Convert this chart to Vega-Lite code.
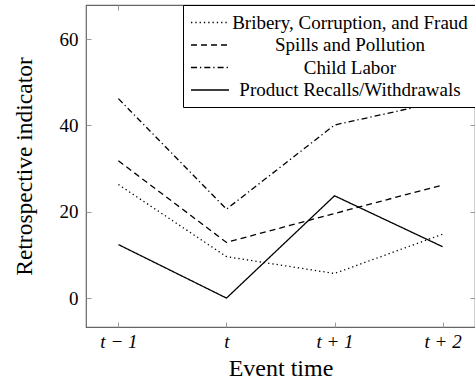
{
  "$schema": "https://vega.github.io/schema/vega-lite/v6.json",
  "width": 389,
  "height": 322,
  "autosize": "none",
  "padding": {"left": 86, "top": 5, "right": 0, "bottom": 55},
  "config": {
    "font": "Liberation Serif",
    "view": {"stroke": "#666", "strokeWidth": 1.2}
  },
  "data": {
    "values": [
      {"series": "Bribery, Corruption, and Fraud", "time": "t − 1", "value": 26.3},
      {"series": "Bribery, Corruption, and Fraud", "time": "t", "value": 9.6},
      {"series": "Bribery, Corruption, and Fraud", "time": "t + 1", "value": 5.7},
      {"series": "Bribery, Corruption, and Fraud", "time": "t + 2", "value": 14.8},
      {"series": "Spills and Pollution", "time": "t − 1", "value": 31.8},
      {"series": "Spills and Pollution", "time": "t", "value": 12.9},
      {"series": "Spills and Pollution", "time": "t + 1", "value": 19.6},
      {"series": "Spills and Pollution", "time": "t + 2", "value": 26.2},
      {"series": "Child Labor", "time": "t − 1", "value": 46.2},
      {"series": "Child Labor", "time": "t", "value": 20.6},
      {"series": "Child Labor", "time": "t + 1", "value": 40.1},
      {"series": "Child Labor", "time": "t + 2", "value": 45.6},
      {"series": "Product Recalls/Withdrawals", "time": "t − 1", "value": 12.4},
      {"series": "Product Recalls/Withdrawals", "time": "t", "value": 0},
      {"series": "Product Recalls/Withdrawals", "time": "t + 1", "value": 23.7},
      {"series": "Product Recalls/Withdrawals", "time": "t + 2", "value": 11.9}
    ]
  },
  "layer": [
    {
      "mark": {"type": "line", "color": "black", "strokeWidth": 1.3},
      "encoding": {
        "x": {
          "field": "time", "type": "ordinal",
          "sort": ["t − 1", "t", "t + 1", "t + 2"],
          "scale": {"type": "point", "padding": 0.3},
          "axis": {
            "title": "Event time", "titleFontSize": 24, "titleFontWeight": "normal", "titleColor": "black", "titlePadding": 5,
            "labelAngle": 0, "labelFontSize": 19, "labelFontStyle": "italic", "labelColor": "black", "labelPadding": 10,
            "domain": false, "tickSize": -5, "tickColor": "#999", "grid": false
          }
        },
        "y": {
          "field": "value", "type": "quantitative",
          "scale": {"domain": [-6.7, 67.9], "nice": false, "zero": false},
          "axis": {
            "title": "Retrospective indicator", "titleFontSize": 23.5, "titleFontWeight": "normal", "titleColor": "black", "titlePadding": 23,
            "values": [0, 20, 40, 60], "labelFontSize": 19, "labelColor": "black", "labelPadding": 13,
            "domain": false, "tickSize": -5, "tickColor": "#999", "grid": false
          }
        },
        "strokeDash": {
          "field": "series", "type": "nominal",
          "scale": {
            "domain": ["Bribery, Corruption, and Fraud", "Spills and Pollution", "Child Labor", "Product Recalls/Withdrawals"],
            "range": [[1.3, 3], [6, 4], [6, 3, 1.3, 3], [1, 0]]
          },
          "legend": {
            "title": null, "orient": "top-right", "offset": 0,
            "strokeColor": "black", "fillColor": "white", "padding": 7, "cornerRadius": 0,
            "symbolType": "M-1,0H3", "symbolSize": 361, "symbolStrokeWidth": 1.3, "symbolStrokeColor": "black", "symbolFillColor": "transparent",
            "labelFontSize": 19, "labelColor": "black", "labelAlign": "center", "labelOffset": 139, "labelLimit": 400,
            "rowPadding": 1.5
          }
        }
      }
    },
    {
      "mark": {"type": "line", "opacity": 0},
      "encoding": {
        "x": {
          "field": "time", "type": "ordinal",
          "sort": ["t − 1", "t", "t + 1", "t + 2"],
          "axis": {"orient": "top", "title": null, "labels": false, "domain": false, "tickSize": -5, "tickColor": "#999", "grid": false}
        },
        "y": {
          "field": "value", "type": "quantitative",
          "axis": {"orient": "right", "title": null, "labels": false, "domain": false, "values": [0, 20, 40, 60], "tickSize": -5, "tickColor": "#999", "grid": false}
        }
      }
    }
  ],
  "resolve": {"axis": {"x": "independent", "y": "independent"}}
}
